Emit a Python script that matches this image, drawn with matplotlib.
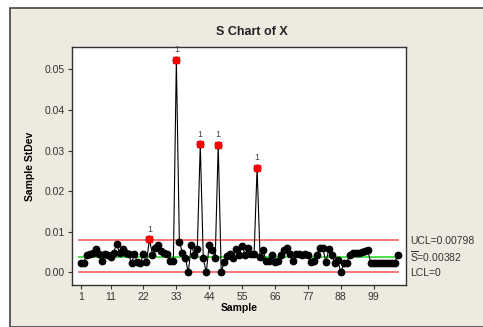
import matplotlib.pyplot as plt
from matplotlib.patches import Rectangle

plt.rcParams['font.family'] = ['Liberation Sans', 'DejaVu Sans']
plt.rcParams['mathtext.fontset'] = 'custom'
plt.rcParams['mathtext.rm'] = 'Liberation Sans'

# sample standard deviations
stdev = [0.0024, 0.0024, 0.0044, 0.0045, 0.0048, 0.0057, 0.0045, 0.0027, 0.0045, 0.0044,
         0.0037, 0.0048, 0.0070, 0.0048, 0.0057, 0.0048, 0.0045, 0.0023, 0.0045, 0.0025,
         0.0023, 0.0045, 0.0025, 0.0082, 0.0044, 0.0060, 0.0068, 0.0052, 0.0048, 0.0045,
         0.0027, 0.0027, 0.0523, 0.0076, 0.0049, 0.0035, 0.0000, 0.0068, 0.0044, 0.0057,
         0.0315, 0.0035, 0.0000, 0.0068, 0.0056, 0.0035, 0.0314, 0.0000, 0.0026, 0.0040,
         0.0046, 0.0036, 0.0057, 0.0044, 0.0065, 0.0044, 0.0060, 0.0045, 0.0045, 0.0258,
         0.0037, 0.0055, 0.0027, 0.0027, 0.0044, 0.0025, 0.0027, 0.0044, 0.0054, 0.0060,
         0.0045, 0.0027, 0.0045, 0.0046, 0.0044, 0.0045, 0.0044, 0.0025, 0.0027, 0.0044,
         0.0060, 0.0060, 0.0025, 0.0057, 0.0044, 0.0022, 0.0030, 0.0000, 0.0022, 0.0024,
         0.0043, 0.0047, 0.0047, 0.0047, 0.0051, 0.0052, 0.0055, 0.0024, 0.0024, 0.0024,
         0.0024, 0.0024, 0.0024, 0.0024, 0.0024, 0.0024, 0.0043]
samples = list(range(1, len(stdev) + 1))
out_of_control = [24, 33, 41, 47, 60]

ucl = 0.00798
sbar = 0.00382
lcl = 0.0

xticks = [1, 11, 22, 33, 44, 55, 66, 77, 88, 99]
yticks = [0.00, 0.01, 0.02, 0.03, 0.04, 0.05]

fig = plt.figure(figsize=(4.83, 3.27), dpi=100)
fig.patch.set_facecolor('white')
fig.patches.append(Rectangle((10 / 483, 0), 1, 1 - 8 / 327, transform=fig.transFigure,
                             facecolor='#eeeae0', edgecolor='#444444', linewidth=1.2,
                             zorder=-10))

ax = fig.add_axes([72 / 483, 1 - 285 / 327, 334 / 483, 238 / 327])
ax.set_facecolor('white')

ax.axhline(ucl, color='#ff6b6b', lw=1.3, xmin=0.022, xmax=0.976, zorder=1)
ax.axhline(lcl, color='#ff6b6b', lw=1.3, xmin=0.022, xmax=0.976, zorder=1)
ax.axhline(sbar, color='#3ee03e', lw=1.3, xmin=0.022, xmax=0.976, zorder=1)

ax.plot(samples, stdev, color='black', lw=0.8, marker='o', markersize=4.6,
        markerfacecolor='black', markeredgecolor='black', zorder=2)
for s in out_of_control:
    ax.plot(s, stdev[s - 1], marker='s', markersize=4.6, color='#ff0000',
            markeredgecolor='#ff0000', zorder=3)
    ax.annotate('1', (s, stdev[s - 1]), xytext=(0, 4), textcoords='offset points',
                ha='center', va='bottom', fontsize=6.5, color='#444444')

ax.set_xlim(-1.9, 109.8)
ax.set_ylim(-0.0031, 0.0555)
ax.set_xticks(xticks)
ax.set_yticks(yticks)
ax.set_yticklabels([f'{v:.2f}' for v in yticks])
ax.tick_params(direction='out', length=3, width=0.8, labelsize=7.5, colors='#333333',
               top=False, right=False, pad=2)
for sp in ax.spines.values():
    sp.set_color('#333333')
    sp.set_linewidth(1.0)

ax.set_xlabel('Sample', fontsize=7.5, fontweight='bold', labelpad=1)
ax.set_ylabel('Sample StDev', fontsize=7.5, fontweight='bold', labelpad=7)
fig.text(252 / 483, 1 - 32 / 327, 'S Chart of X', ha='center', va='center',
         fontsize=9, fontweight='bold', color='#222222')

lx = 410 / 483
fig.text(lx, 1 - 240.5 / 327, f'UCL={ucl}', fontsize=7.5, va='center', color='#333333')
fig.text(lx, 1 - 257 / 327, r'$\overline{\mathrm{S}}$' + f'={sbar}', fontsize=7.5,
         va='center', color='#333333')
fig.text(lx, 1 - 272.5 / 327, 'LCL=0', fontsize=7.5, va='center', color='#333333')

fig.savefig('out.png', dpi=100, facecolor=fig.get_facecolor())
